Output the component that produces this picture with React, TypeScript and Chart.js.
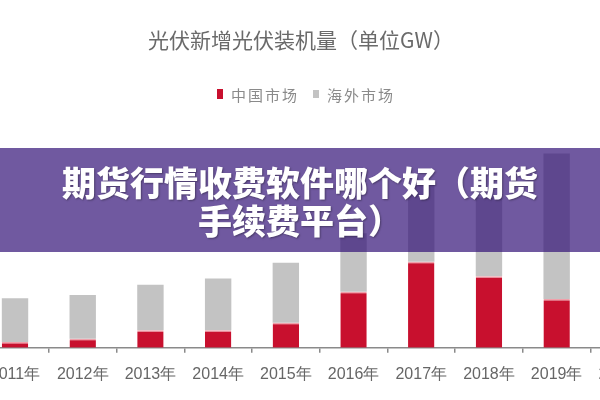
import React, { useEffect, useRef } from "react";
import { Chart, registerables } from "chart.js";

Chart.register(...registerables);

const categories = ["2011年", "2012年", "2013年", "2014年", "2015年", "2016年", "2017年", "2018年", "2019年", "2020年"];
const chinaMarket = [3.5, 5.5, 10.8, 10.8, 15.4, 34.5, 53, 44, 30, null];
const overseasMarket = [27, 27, 28, 31.8, 37, 36, 48, 48.5, 89.5, null];
const seriesLabels = ["中国市场", "海外市场"];
const seriesColors = ["#c8102e", "#c3c3c3"];
const chartTitle = "光伏新增光伏装机量（单位GW）";
const bannerLines = ["期货行情收费软件哪个好（期货", "手续费平台）"];

export default function App() {
  const canvasRef = useRef<HTMLCanvasElement | null>(null);

  useEffect(() => {
    const canvas = canvasRef.current;
    if (!canvas) return;
    const chart = new Chart(canvas, {
      type: "bar",
      data: {
        labels: categories,
        datasets: [
          {
            label: seriesLabels[0],
            data: chinaMarket,
            backgroundColor: seriesColors[0],
            borderColor: "#f1a0aa",
            borderWidth: { top: 1.5, left: 0, right: 0, bottom: 0 },
            borderSkipped: false,
            barPercentage: 0.39,
            categoryPercentage: 1,
          },
          {
            label: seriesLabels[1],
            data: overseasMarket,
            backgroundColor: seriesColors[1],
            borderWidth: 0,
            barPercentage: 0.39,
            categoryPercentage: 1,
          },
        ],
      },
      options: {
        responsive: false,
        animation: false,
        layout: { padding: { top: 104, bottom: 4, left: 0, right: 0 } },
        plugins: {
          legend: { display: false },
          title: { display: false },
          tooltip: { enabled: false },
        },
        scales: {
          x: {
            stacked: true,
            offset: true,
            grid: {
              display: true,
              drawOnChartArea: false,
              drawTicks: true,
              tickLength: 5,
              color: "#8a8a8a",
              lineWidth: 1.5,
              offset: true,
            },
            border: { display: true, color: "#8a8a8a", width: 1.5 },
            ticks: {
              color: "#666",
              font: { family: "'Liberation Sans', Arial, sans-serif", size: 16 },
              padding: 12,
              maxRotation: 0,
              autoSkip: false,
            },
          },
          y: { stacked: true, display: false, min: 0, max: 150 },
        },
      },
    });
    return () => chart.destroy();
  }, []);

  return (
    <div
      style={{
        position: "fixed",
        left: 0,
        top: 0,
        width: 600,
        height: 400,
        overflow: "hidden",
        background: "#fff",
      }}
    >
      <canvas
        ref={canvasRef}
        width={684}
        height={400}
        style={{ position: "absolute", left: -22, top: 0, width: 684, height: 400 }}
      />
      <div
        style={{
          position: "absolute",
          left: 0,
          top: 26,
          width: 602,
          textAlign: "center",
          fontFamily: "'Noto Sans CJK SC', sans-serif",
          fontSize: 21,
          lineHeight: "26px",
          color: "#6a6a6a",
        }}
      >
        {chartTitle}
      </div>
      <div
        style={{
          position: "absolute",
          left: 217,
          top: 84,
          display: "flex",
          alignItems: "center",
          height: 20,
          fontFamily: "'Noto Sans CJK SC', sans-serif",
          fontSize: 15,
          color: "#8a8a8a",
          letterSpacing: 2,
        }}
      >
        {seriesLabels.map((lab, i) => (
          <div key={lab} style={{ display: "flex", alignItems: "center", marginRight: i === 0 ? 14 : 0 }}>
            <span
              style={{
                display: "inline-block",
                width: 6,
                height: i === 0 ? 10 : 8,
                background: seriesColors[i],
                marginRight: 8,
              }}
            />
            <span>{lab}</span>
          </div>
        ))}
      </div>
      <div
        style={{
          position: "absolute",
          left: 0,
          top: 148,
          width: 600,
          height: 104,
          background: "rgba(51,18,119,0.7)",
          color: "#fff",
          fontFamily: "'Noto Sans CJK SC', sans-serif",
          fontWeight: 900,
          fontSize: 34,
          lineHeight: "38px",
          textAlign: "center",
          paddingTop: 15,
          boxSizing: "border-box",
          textShadow: "1px 1px 2px rgba(0,0,0,0.35)",
        }}
      >
        {bannerLines.map((l) => (
          <div key={l}>{l}</div>
        ))}
      </div>
    </div>
  );
}
